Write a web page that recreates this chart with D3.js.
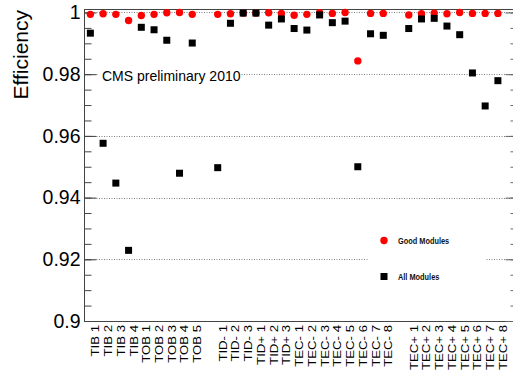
<!DOCTYPE html>
<html>
<head>
<meta charset="utf-8">
<script src="https://cdn.jsdelivr.net/npm/d3@7/dist/d3.min.js"></script>
<style>
  html, body { margin: 0; padding: 0; background: #fff; }
  svg { display: block; font-family: "Liberation Sans", Arial, Helvetica, sans-serif; }
</style>
</head>
<body>
<svg id="chart" width="513" height="370"></svg>
<script>
// Tracker sub-detector layers; empty strings are spacer bins between groups.
const categories = [
  "TIB 1", "TIB 2", "TIB 3", "TIB 4", "TOB 1", "TOB 2", "TOB 3", "TOB 4", "TOB 5", "",
  "TID- 1", "TID- 2", "TID- 3", "TID+ 1", "TID+ 2", "TID+ 3",
  "TEC- 1", "TEC- 2", "TEC- 3", "TEC- 4", "TEC- 5", "TEC- 6", "TEC- 7", "TEC- 8", "",
  "TEC+ 1", "TEC+ 2", "TEC+ 3", "TEC+ 4", "TEC+ 5", "TEC+ 6", "TEC+ 7", "TEC+ 8", ""
];

// Hit efficiency, good modules only
const goodModules = [
  0.9994, 0.9996, 0.9994, 0.9974, 0.9990, 0.9994, 0.9999, 1.0000, 0.9994, null,
  0.9994, 0.9996, 0.9998, 0.9998, 0.9999, 0.9997,
  0.9991, 0.9994, 0.9999, 0.9997, 1.0000, 0.9843, 0.9997, 0.9997, null,
  0.9992, 0.9996, 0.9998, 0.9996, 1.0000, 0.9997, 0.9997, 0.9997, null
];

// Hit efficiency, all modules
const allModules = [
  0.9933, 0.9576, 0.9447, 0.9229, 0.9952, 0.9944, 0.9910, 0.9479, 0.9901, null,
  0.9497, 0.9965, 0.9998, 0.9998, 0.9959, 0.9979,
  0.9948, 0.9943, 0.9992, 0.9967, 0.9972, 0.9500, 0.9931, 0.9926, null,
  0.9948, 0.9979, 0.9981, 0.9956, 0.9928, 0.9804, 0.9697, 0.9779, null
];

const yTickValues = [0.9, 0.92, 0.94, 0.96, 0.98, 1.0];
const yTickLabels = ["0.9", "0.92", "0.94", "0.96", "0.98", "1"];
const yMinorValues = d3.range(0, 21).map(i => 0.9 + i * 0.005).filter(v => v <= 1.0005);

const svg = d3.select("#chart");
const frame = { left: 84, right: 517, top: 9.4, bottom: 321 };

const x = d3.scaleBand()
  .domain(d3.range(categories.length))
  .range([frame.left, frame.right])
  .paddingInner(0).paddingOuter(0);
const cx = i => x(i) + x.bandwidth() / 2;

const y = d3.scaleLinear().domain([0.9, 1.001]).range([frame.bottom, frame.top]);

// dotted horizontal grid
svg.append("g").selectAll("line")
  .data(yTickValues.filter(v => v > 0.9))
  .join("line")
  .attr("x1", frame.left).attr("x2", frame.right)
  .attr("y1", d => Math.round(y(d)) + 0.5).attr("y2", d => Math.round(y(d)) + 0.5)
  .attr("stroke", "#808080").attr("stroke-width", 1)
  .attr("stroke-dasharray", "1 1.5");

// frame
svg.append("rect")
  .attr("x", frame.left + 0.5).attr("y", Math.round(frame.top) + 0.5)
  .attr("width", frame.right - frame.left)
  .attr("height", Math.round(frame.bottom) - Math.round(frame.top))
  .attr("fill", "none").attr("stroke", "#444").attr("stroke-width", 1);

// left axis: major ticks with labels, minor ticks
const yMajor = d3.axisLeft(y)
  .tickValues(yTickValues)
  .tickFormat((d, i) => yTickLabels[i])
  .tickSize(-12).tickPadding(4);
const gMajor = svg.append("g").attr("transform", `translate(${frame.left + 0.5},0)`).call(yMajor);
gMajor.select(".domain").remove();
gMajor.selectAll(".tick line").attr("stroke", "#444");
gMajor.selectAll(".tick text")
  .attr("font-size", "19.5px").attr("fill", "#000")
  .attr("font-family", "'Liberation Sans', Arial, sans-serif");

const yMinor = d3.axisLeft(y).tickValues(yMinorValues).tickFormat("").tickSize(-7);
const gMinor = svg.append("g").attr("transform", `translate(${frame.left + 0.5},0)`).call(yMinor);
gMinor.select(".domain").remove();
gMinor.selectAll(".tick line").attr("stroke", "#444");

// right side ticks
const rMajor = d3.axisRight(y).tickValues(yTickValues).tickFormat("").tickSize(-12);
const gR1 = svg.append("g").attr("transform", `translate(${frame.right + 0.5},0)`).call(rMajor);
gR1.select(".domain").remove();
gR1.selectAll(".tick line").attr("stroke", "#666");
const rMinor = d3.axisRight(y).tickValues(yMinorValues).tickFormat("").tickSize(-7);
const gR2 = svg.append("g").attr("transform", `translate(${frame.right + 0.5},0)`).call(rMinor);
gR2.select(".domain").remove();
gR2.selectAll(".tick line").attr("stroke", "#666");

// y title
svg.append("text")
  .attr("transform", "translate(28,10) rotate(-90)")
  .attr("text-anchor", "end")
  .attr("font-size", "21px")
  .text("Efficiency");

// vertical bin labels
svg.append("g").selectAll("text")
  .data(categories.map((c, i) => ({ c, i })).filter(d => d.c !== ""))
  .join("text")
  .attr("transform", d => `translate(${cx(d.i) + 5},325) rotate(-90) scale(1.2,1)`)
  .attr("text-anchor", "end")
  .attr("dy", "0.36em")
  .attr("font-size", "11px")
  .text(d => d.c);

// annotation with white backing
const note = svg.append("g");
note.append("rect").attr("x", 99).attr("y", 68).attr("width", 142).attr("height", 16).attr("fill", "#fff");
note.append("text").attr("x", 102).attr("y", 80.5).attr("font-size", "14px").text("CMS preliminary 2010");

// markers: good modules (red circles) below all modules (black squares)
svg.append("g").selectAll("circle")
  .data(goodModules.map((v, i) => ({ v, i })).filter(d => d.v !== null))
  .join("circle")
  .attr("cx", d => cx(d.i)).attr("cy", d => y(d.v))
  .attr("r", 3.7).attr("fill", "#ff0000");

const sq = 7;
svg.append("g").selectAll("rect")
  .data(allModules.map((v, i) => ({ v, i })).filter(d => d.v !== null))
  .join("rect")
  .attr("x", d => cx(d.i) - sq / 2).attr("y", d => y(d.v) - sq / 2)
  .attr("width", sq).attr("height", sq).attr("fill", "#000");

// legend
const legend = svg.append("g");
legend.append("rect").attr("x", 368).attr("y", 224).attr("width", 117).attr("height", 68).attr("fill", "#fff");
legend.append("circle").attr("cx", 384).attr("cy", 240.5).attr("r", 3.7).attr("fill", "#ff0000");
legend.append("rect").attr("x", 384 - sq / 2).attr("y", 276.5 - sq / 2).attr("width", sq).attr("height", sq).attr("fill", "#000");
legend.append("text")
  .attr("transform", "translate(398,243.7) scale(0.82,1)")
  .attr("font-size", "9px").attr("font-weight", "bold").attr("fill", "#111")
  .text("Good Modules");
legend.append("text")
  .attr("transform", "translate(398,279.7) scale(0.82,1)")
  .attr("font-size", "9px").attr("font-weight", "bold").attr("fill", "#111")
  .text("All Modules");
</script>
</body>
</html>
